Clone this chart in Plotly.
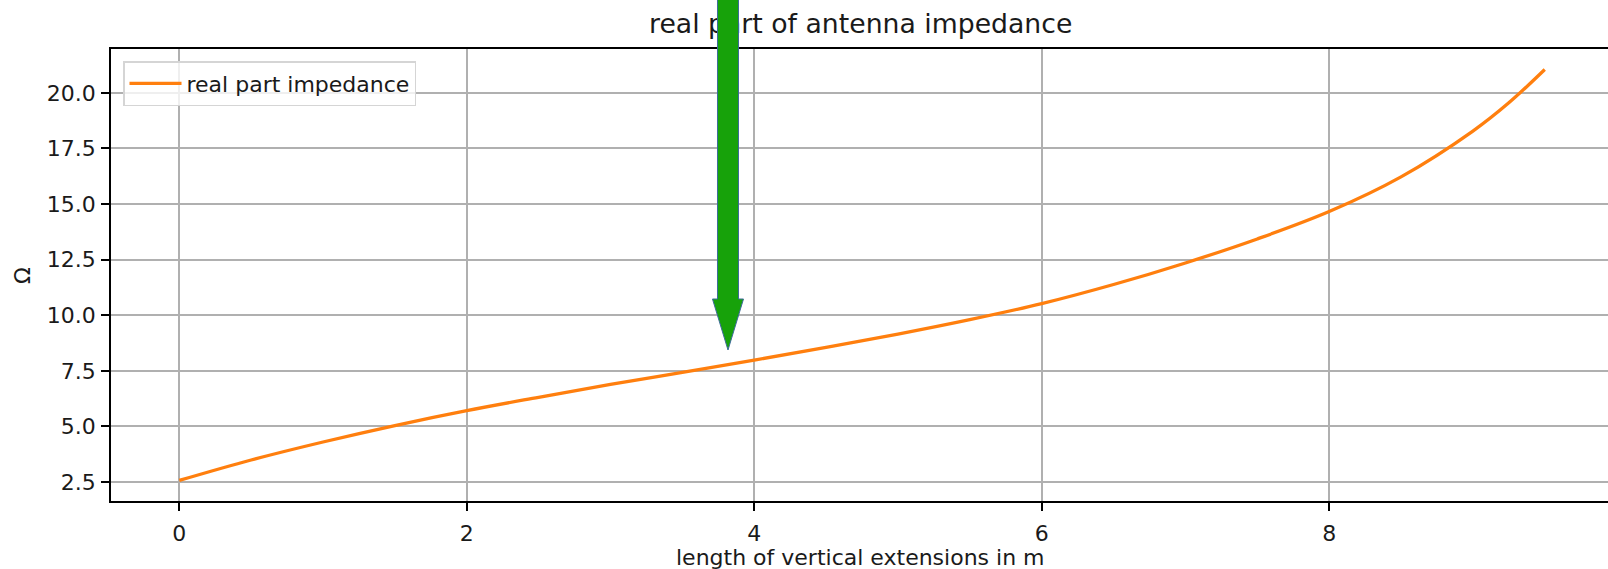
import plotly.graph_objects as go

# data
length_m = [0.0, 0.5, 1.0, 1.5, 2.0, 2.5, 3.0, 3.5, 4.0, 4.5, 5.0, 5.5, 6.0,
            6.5, 7.0, 7.5, 8.0, 8.5, 9.0, 9.25, 9.5]
real_impedance = [2.57, 3.49, 4.30, 5.04, 5.71, 6.31, 6.89, 7.43, 7.98, 8.55,
                  9.15, 9.80, 10.52, 11.38, 12.35, 13.43, 14.66, 16.22, 18.28,
                  19.55, 21.05]
x_ticks = [0, 2, 4, 6, 8]
y_ticks = [2.5, 5.0, 7.5, 10.0, 12.5, 15.0, 17.5, 20.0]

W, H = 1608, 569
L, T, B = 111, 49, 68
plot_w = W - L
plot_h = H - T - B


def px_x(p):
    return (p - L) / plot_w


def px_y(p):
    return (H - B - p) / plot_h


FONT = "DejaVu Sans"
TXT = "#1a1a1a"
FS = 22

fig = go.Figure()
fig.add_trace(go.Scatter(
    x=length_m, y=real_impedance, mode="lines", name="real part impedance",
    line=dict(color="#ff7f0e", width=3.3, shape="spline", smoothing=1.0),
))

axis_common = dict(
    showgrid=True, gridcolor="#b0b0b0", gridwidth=1.8,
    showline=True, linecolor="black", linewidth=1.8,
    ticks="outside", ticklen=8, tickwidth=1.8, tickcolor="black",
    tickfont=dict(family=FONT, size=FS, color=TXT),
    zeroline=False, automargin=False,
)

fig.update_layout(
    width=W, height=H,
    margin=dict(l=L, r=0, t=T, b=B, pad=0),
    paper_bgcolor="white", plot_bgcolor="white",
    showlegend=True,
    legend=dict(
        x=px_x(123), y=px_y(61), xanchor="left", yanchor="top",
        bgcolor="rgba(255,255,255,0.8)", bordercolor="#d5d5d5", borderwidth=1.5,
        font=dict(family=FONT, size=FS, color=TXT), itemwidth=52,
    ),
    xaxis=dict(range=[-0.475, 9.94], tickvals=x_ticks, mirror=True,
               ticklabelstandoff=4, **axis_common),
    yaxis=dict(range=[1.646, 21.97], tickvals=y_ticks, tickformat=".1f",
               mirror=False, ticklabelstandoff=1, **axis_common),
)

# title and axis labels
fig.add_annotation(text="real part of antenna impedance", xref="paper", yref="paper",
                   x=px_x(860.5), y=px_y(23.5), xanchor="center", yanchor="middle",
                   showarrow=False, font=dict(family=FONT, size=26.7, color=TXT))
fig.add_annotation(text="length of vertical extensions in m", xref="paper", yref="paper",
                   x=px_x(861), y=px_y(557), xanchor="center", yanchor="middle",
                   showarrow=False, font=dict(family=FONT, size=FS, color=TXT))
fig.add_annotation(text="Ω", xref="paper", yref="paper",
                   x=px_x(22.5), y=px_y(275.5), xanchor="center", yanchor="middle",
                   textangle=-90, showarrow=False,
                   font=dict(family=FONT, size=FS, color=TXT))

# green arrow overlay
pts = [(717.5, -5), (738.5, -5), (738.5, 299), (743.5, 299), (728, 350),
       (712.5, 299), (717.5, 299)]
path = "M " + " L ".join(f"{px_x(a):.5f},{px_y(b):.5f}" for a, b in pts) + " Z"
fig.add_shape(type="path", path=path, xref="paper", yref="paper",
              fillcolor="#17a20a", line=dict(color="#3d6b9a", width=1), layer="above")

post = """
document.body.style.margin = '0px';
document.body.style.overflow = 'hidden';
var gd = document.getElementById('{plot_id}');
var ann = gd.querySelector('.annotation');
var la = gd.querySelector('.layer-above');
if (ann && la) { la.parentNode.insertBefore(ann, la); }
"""
fig.write_html("out.html", post_script=post, config={"displayModeBar": False})
